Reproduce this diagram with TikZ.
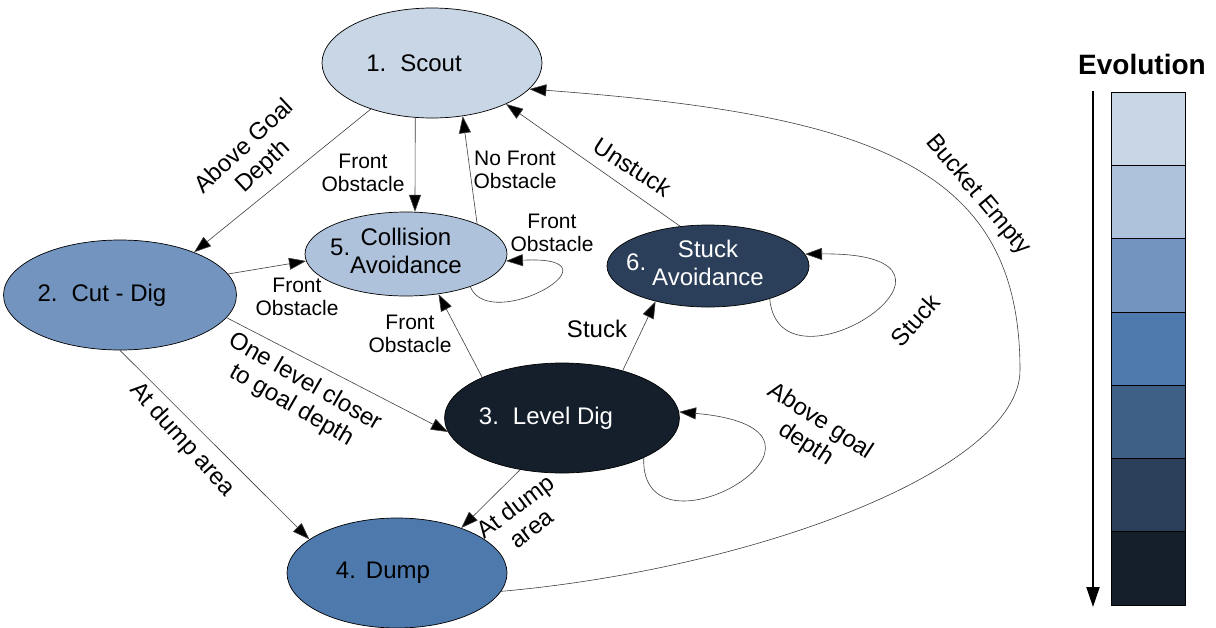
\documentclass[tikz,border=0pt]{standalone}
\usepackage{fontspec}
\setmainfont{Liberation Sans}
\usetikzlibrary{arrows.meta,shapes.geometric}
\definecolor{cA}{HTML}{C8D6E6}
\definecolor{cB}{HTML}{AFC2DB}
\definecolor{cC}{HTML}{7294BF}
\definecolor{cD}{HTML}{4E79AD}
\definecolor{cE}{HTML}{3E5F86}
\definecolor{cF}{HTML}{2B3F5A}
\definecolor{cG}{HTML}{141F2B}
\newcommand{\fsNode}{\fontsize{24}{28}\selectfont}
\newcommand{\fsSmall}{\fontsize{21}{23.5}\selectfont}
\newcommand{\fsBig}{\fontsize{24}{27}\selectfont}
\newcommand{\fsEvo}{\fontsize{28}{31}\selectfont}
\begin{document}
\begin{tikzpicture}[x=1pt,y=-1pt,
  st/.style={ellipse,draw=black,line width=0.7pt,inner sep=0pt,align=center,font=\fsNode},
  edge/.style={draw=black!75,line width=0.6pt,-{Triangle[length=17pt,width=12pt,fill=black]}},
  lbl/.style={font=\fsSmall,align=center,inner sep=0pt},
  biglbl/.style={font=\fsBig,align=center,inner sep=0pt}]
\useasboundingbox[fill=white] (0,0) rectangle (1216,627);

% states
\node[st,fill=cA,minimum width=220,minimum height=110] (scout) at (432,63) {1.\hspace{14pt}Scout\hspace{36pt}};
\node[st,fill=cC,minimum width=222,minimum height=110] (cut) at (120,295) {2.\hspace{14pt}Cut - Dig\hspace{36pt}};
\node[st,fill=cG,text=white,minimum width=220,minimum height=110] (level) at (562,418) {3.\hspace{14pt}Level Dig\hspace{32pt}};
\node[st,fill=cD,minimum width=220,minimum height=110] (dump) at (397,573) {4.\hspace{10pt}Dump\hspace{28pt}};
\node[st,fill=cB,minimum width=202,minimum height=84] (col) at (406,254) {\llap{\raisebox{5pt}{5.}}\begin{tabular}{@{}c@{}}Collision\\Avoidance\end{tabular}};
\node[st,fill=cF,text=white,minimum width=202,minimum height=82] (stuck) at (708,266) {\llap{\raisebox{2pt}{6.}\hspace{6pt}}\begin{tabular}{@{}c@{}}Stuck\\Avoidance\end{tabular}};
\coordinate (bk) at (1020,370);

% transitions
\draw[edge] (scout.-107) -- (col.78);
\draw[edge] (col.23) -- (scout.-60);
\draw[edge] (stuck.125) -- (scout.-29);
\draw[edge] (scout.-143) -- (cut.30);
\draw[edge] (cut.11.5) -- (col.184);
\draw[edge] (level.153) -- (col.-51);
\draw[edge] (level.38) -- (stuck.-146);
\draw[edge] (cut.-12) -- (level.187);
\draw[edge] (cut.-90) -- (dump.159);
\draw[edge] (level.-129) -- (dump.35);
\draw[edge] (col.-27) .. controls (490,335) and (630,255) .. (col.-4);
\draw[edge] (stuck.-28) .. controls (780,405) and (1010,252) .. (stuck.7);
\draw[edge] (level.-26) .. controls (640,570) and (880,430) .. (level.3);
\draw[edge] (dump.-10) .. controls (753,569) and (1020,470) .. (bk) .. controls (1020,170) and (880,115) .. (scout.-15);

% labels
\node[lbl] (l1) at (363,173) {Front\\Obstacle};
\node[lbl] (l2) at (515,170) {No Front\\Obstacle};
\node[lbl] (l3) at (552,233) {Front\\Obstacle};
\node[lbl] (l4) at (297,297) {Front\\Obstacle};
\node[lbl] (l5) at (410,334) {Front\\Obstacle};
\node[biglbl] (l6) at (597,329) {Stuck};
\node[biglbl,rotate=-33] (l7) at (633,167) {Unstuck};
\node[biglbl,rotate=-50] (l8) at (978,195) {Bucket Empty};
\node[biglbl,rotate=48] (l9) at (915,320) {Stuck};
\node[biglbl,rotate=-33] (l10) at (813,433) {Above goal\\depth};
\node[biglbl,rotate=37] (l11) at (523,517) {At dump\\area};
\node[biglbl,rotate=-48] (l12) at (182,440) {At dump area};
\node[biglbl,rotate=-30] (l13) at (298,394) {One level closer\\to goal depth};
\node[biglbl,rotate=43] (l14) at (254,157) {Above Goal\\Depth};

% legend
\node[font=\fsEvo\bfseries,inner sep=0pt] (evo) at (1142,64) {Evolution};
\foreach \c [count=\i from 0] in {cA,cB,cC,cD,cE,cF,cG}
  \draw[fill=\c,line width=0.6pt] (1111,{92+73.29*\i}) rectangle (1185,{92+73.29*(\i+1)});
\coordinate (ea) at (1093,91);
\coordinate (eb) at (1093,607);
\draw[line width=2pt,-{Triangle[length=20pt,width=13pt]}] (ea) -- (eb);
\end{tikzpicture}
\end{document}
